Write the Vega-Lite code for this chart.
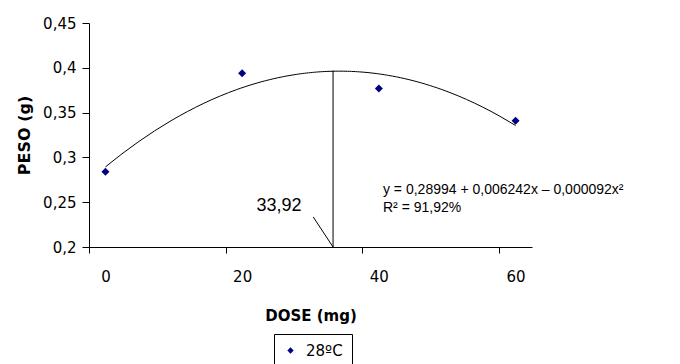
{
  "$schema": "https://vega.github.io/schema/vega-lite/v6.json",
  "width": 443,
  "height": 224,
  "autosize": {"type": "none"},
  "padding": {"left": 89, "top": 23, "right": 148, "bottom": 117},
  "background": "white",
  "config": {
    "view": {"stroke": null},
    "axis": {"grid": false, "domainColor": "#000", "tickColor": "#000", "labelColor": "#000", "titleColor": "#000", "labelFont": "DejaVu Sans", "titleFont": "DejaVu Sans", "titleFontWeight": "bold"}
  },
  "datasets": {
    "pts": [
      {"dose": 0, "peso": 0.284, "serie": "28ºC"},
      {"dose": 20, "peso": 0.394, "serie": "28ºC"},
      {"dose": 40, "peso": 0.377, "serie": "28ºC"},
      {"dose": 60, "peso": 0.341, "serie": "28ºC"}
    ],
    "vline": [{"x": 33.3, "y": 0.2, "y2": 0.3968}],
    "pointer": [{"x": 30.4, "y": 0.2335, "x2": 33.3, "y2": 0.2}],
    "labels": [
      {"x": 25.4, "y": 0.2458, "t": "33,92", "k": "vertex"},
      {"x": 40.6, "y": 0.2636, "t": "y = 0,28994 + 0,006242x – 0,000092x²", "k": "eq"},
      {"x": 40.6, "y": 0.2430, "t": "R² = 91,92%", "k": "eq"}
    ]
  },
  "layer": [
    {
      "data": {"name": "pts"},
      "transform": [{"regression": "peso", "on": "dose", "method": "poly", "order": 2}],
      "mark": {"type": "line", "color": "#000", "strokeWidth": 1, "clip": true},
      "encoding": {
        "x": {"field": "dose", "type": "quantitative", "scale": {"domain": [-2.4, 62.4], "nice": false, "zero": false},
          "axis": {"values": [0, 20, 40, 60], "title": "DOSE (mg)", "tickSize": 6, "tickOffset": -16.4, "labelOffset": 16.4, "labelPadding": 16, "labelFontSize": 15, "titleFontSize": 15, "titlePadding": 24, "labelFlush": false}},
        "y": {"field": "peso", "type": "quantitative", "scale": {"domain": [0.2, 0.45], "nice": false, "zero": false},
          "axis": {"values": [0.2, 0.25, 0.3, 0.35, 0.4, 0.45], "title": "PESO (g)", "tickSize": 7, "labelPadding": 6, "labelFontSize": 15, "titleFontSize": 16, "titlePadding": 10, "labelExpr": "replace(format(datum.value, '.2~f'), '.', ',')"}}
      }
    },
    {
      "data": {"name": "pts"},
      "mark": {"type": "point", "shape": "diamond", "filled": true, "size": 64, "opacity": 1},
      "encoding": {
        "x": {"field": "dose", "type": "quantitative"},
        "y": {"field": "peso", "type": "quantitative"},
        "color": {"field": "serie", "type": "nominal", "scale": {"range": ["#000080"]},
          "legend": {"title": null, "orient": "none", "legendX": 185, "legendY": 311, "strokeColor": "#000", "fillColor": "white", "padding": 9, "labelFontSize": 15, "labelFont": "DejaVu Sans", "labelColor": "#000", "symbolType": "diamond", "symbolSize": 40, "labelOffset": 8, "cornerRadius": 0}}
      }
    },
    {
      "data": {"name": "vline"},
      "mark": {"type": "rule", "color": "#000", "strokeWidth": 1},
      "encoding": {
        "x": {"field": "x", "type": "quantitative"},
        "y": {"field": "y", "type": "quantitative"},
        "y2": {"field": "y2"}
      }
    },
    {
      "data": {"name": "pointer"},
      "mark": {"type": "rule", "color": "#000", "strokeWidth": 1},
      "encoding": {
        "x": {"field": "x", "type": "quantitative"},
        "x2": {"field": "x2"},
        "y": {"field": "y", "type": "quantitative"},
        "y2": {"field": "y2"}
      }
    },
    {
      "data": {"name": "labels"},
      "transform": [{"filter": "datum.k == 'vertex'"}],
      "mark": {"type": "text", "font": "Liberation Sans", "fontSize": 18, "align": "center", "baseline": "middle", "color": "#000"},
      "encoding": {
        "x": {"field": "x", "type": "quantitative"},
        "y": {"field": "y", "type": "quantitative"},
        "text": {"field": "t"}
      }
    },
    {
      "data": {"name": "labels"},
      "transform": [{"filter": "datum.k == 'eq'"}],
      "mark": {"type": "text", "font": "Liberation Sans", "fontSize": 14, "align": "left", "baseline": "middle", "color": "#000"},
      "encoding": {
        "x": {"field": "x", "type": "quantitative"},
        "y": {"field": "y", "type": "quantitative"},
        "text": {"field": "t"}
      }
    }
  ]
}
